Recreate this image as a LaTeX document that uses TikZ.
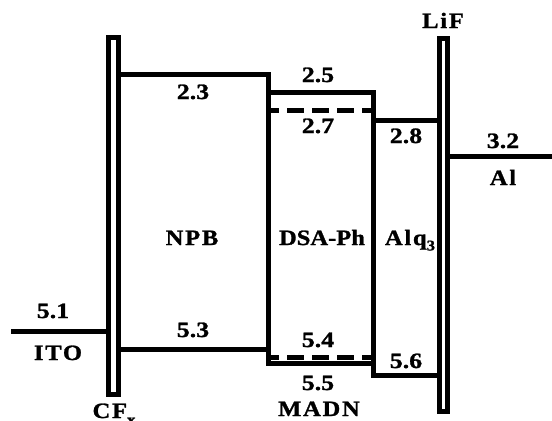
\documentclass[tikz,border=0pt]{standalone}
\usepackage{fontspec}
\setmainfont{Liberation Serif}
\newfontfamily\numfont[FakeStretch=1.18,FakeBold=1.2]{Liberation Serif}
\newfontfamily\spacedfont[FakeStretch=1.12,LetterSpace=8,FakeBold=1.2]{Liberation Serif}
\newfontfamily\tightfont[FakeStretch=1.12,FakeBold=1.2]{Liberation Serif}
\begin{document}
\begin{tikzpicture}[x=1bp,y=-1bp,
  lvl/.style={line width=5bp,line join=miter},
  dashlvl/.style={line width=5bp,dash pattern=on 17bp off 8bp,dash phase=9bp},
  barbox/.style={line width=5bp,line join=miter},
  num/.style={inner sep=0pt,anchor=base,font=\fontsize{22}{24}\selectfont\bfseries\numfont},
  word/.style={inner sep=0pt,anchor=base,font=\fontsize{22}{24}\selectfont\bfseries\spacedfont},
  tightword/.style={inner sep=0pt,anchor=base,font=\fontsize{22}{24}\selectfont\bfseries\tightfont}]
\useasboundingbox (0,0) rectangle (552,420);
% bars
\draw[barbox] (108.5,37.5) rectangle (118.5,394.5);
\draw[barbox] (439.5,38.5) rectangle (447.5,411.5);
% levels
\draw[lvl] (11,331) -- (108.5,331);
\draw[lvl] (118.5,74.5) -- (268.5,74.5) -- (268.5,363.5) -- (373.5,363.5);
\draw[lvl] (268.5,92.5) -- (373.5,92.5) -- (373.5,375.5) -- (439.5,375.5);
\draw[lvl] (373.5,120) -- (439.5,120);
\draw[lvl] (118.5,349) -- (268.5,349);
\draw[lvl] (447.5,156.5) -- (552,156.5);
\draw[dashlvl] (271,110.5) -- (371,110.5);
\draw[dashlvl] (271,357.5) -- (371,357.5);
% labels
\node[num] (l23) at (193,99) {2.3};
\node[num] (l25) at (318,82) {2.5};
\node[num] (l27) at (318,133) {2.7};
\node[num] (l28) at (406,143) {2.8};
\node[num] (l32) at (503,148) {3.2};
\node[word] (al) at (503,185) {Al};
\node[word] (lif) at (443,28) {LiF};
\node[word] (npb) at (192,245) {NPB};
\node[tightword] (dsa) at (322,245) {DSA-Ph};
\node[word] (alq) at (410,245) {Alq\raisebox{-0.25em}{\fontsize{15}{15}\selectfont 3}};
\node[num] (l51) at (53,318) {5.1};
\node[word] (ito) at (58,360) {ITO};
\node[num] (l53) at (193,337) {5.3};
\node[num] (l54) at (318,347) {5.4};
\node[num] (l55) at (318,390) {5.5};
\node[word] (madn) at (319,416) {MADN};
\node[word] (cfx) at (114,418) {CF\raisebox{-0.3em}{\fontsize{15}{15}\selectfont x}};
\node[num] (l56) at (406,368) {5.6};
\end{tikzpicture}
\end{document}
